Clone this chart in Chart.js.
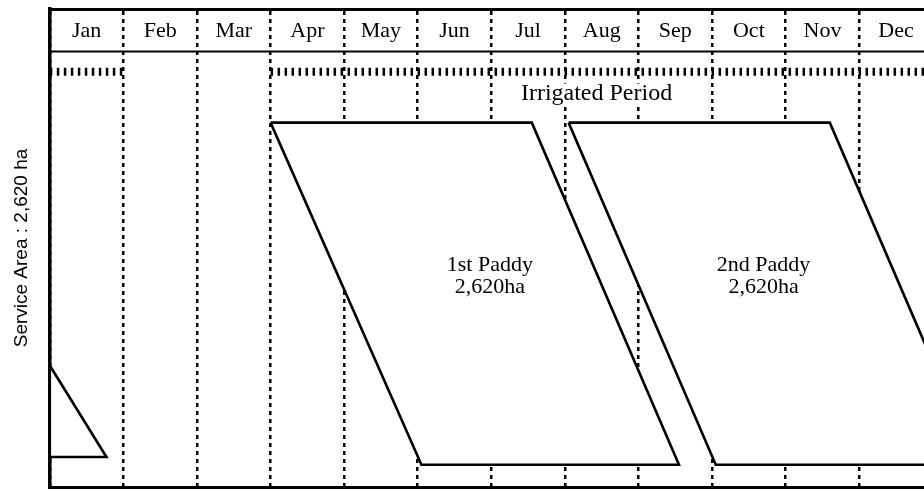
<!DOCTYPE html>
<html>
<head>
<meta charset="utf-8">
<script src="https://cdn.jsdelivr.net/npm/chart.js@4.4.1/dist/chart.umd.min.js"></script>
<style>
  html, body { margin: 0; padding: 0; background: #fff; overflow: hidden; }
  canvas { display: block; }
</style>
</head>
<body>
<canvas id="cropChart" width="924" height="491"></canvas>
<script>
// x unit = 1 month counted from 1 Jan, y unit = ha
const months = ["Jan", "Feb", "Mar", "Apr", "May", "Jun", "Jul", "Aug", "Sep", "Oct", "Nov", "Dec"];

// 1st paddy outline
const firstPaddyX = [3.0, 6.55, 8.55, 5.05, 3.0];
const firstPaddyY = [2620, 2620, 0, 0, 2620];
// 2nd paddy outline (runs past the end of December)
const secondPaddyX = [7.05, 10.6, 12.6, 9.05, 7.05];
const secondPaddyY = [2620, 2620, 0, 0, 2620];
// tail of last year's 2nd paddy
const carryOverX = [0, 0.77, 0, 0];
const carryOverY = [760, 60, 60, 760];

// irrigated period bands
const irrigatedStart = [0, 3.0];
const irrigatedEnd = [1.0, 11.9];
const irrigatedLevel = 3010;
const headerLevel = 3165;

const cropLabels = [
  { lines: ["1st Paddy", "2,620ha"], x: 5.98, y: 1525 },
  { lines: ["2nd Paddy", "2,620ha"], x: 9.7, y: 1525 }
];
const irrigatedLabel = { text: "Irrigated Period", x: 7.43, y: 2842 };

const toPoints = (xs, ys) => xs.map((x, i) => ({ x: x, y: ys[i] }));

const outline = (xs, ys) => ({
  data: toPoints(xs, ys),
  showLine: true,
  borderColor: "#000",
  borderWidth: 2.6,
  backgroundColor: "#fff",
  fill: "shape",
  pointRadius: 0,
  tension: 0
});

const datasets = [
  outline(firstPaddyX, firstPaddyY),
  outline(secondPaddyX, secondPaddyY),
  outline(carryOverX, carryOverY),
  {
    data: [{ x: 0, y: headerLevel }, { x: 11.9, y: headerLevel }],
    showLine: true, borderColor: "#000", borderWidth: 2, pointRadius: 0
  }
];
irrigatedStart.forEach((s, i) => {
  datasets.push({
    data: [{ x: s, y: irrigatedLevel }, { x: irrigatedEnd[i], y: irrigatedLevel }],
    showLine: true,
    borderColor: "#000",
    borderWidth: 8,
    borderDash: [2.5, 4.5],
    borderCapStyle: "butt",
    pointRadius: 0
  });
});

const textPlugin = {
  id: "cropText",
  afterDatasetsDraw(chart) {
    const { ctx, scales } = chart;
    ctx.save();
    ctx.fillStyle = "#000";
    ctx.textAlign = "center";
    ctx.textBaseline = "middle";
    ctx.font = "22px 'Liberation Serif'";
    cropLabels.forEach(l => {
      const px = scales.x.getPixelForValue(l.x);
      const py = scales.y.getPixelForValue(l.y);
      l.lines.forEach((t, i) => ctx.fillText(t, px, py + i * 22));
    });
    ctx.font = "24px 'Liberation Serif'";
    const ix = scales.x.getPixelForValue(irrigatedLabel.x);
    const iy = scales.y.getPixelForValue(irrigatedLabel.y);
    const w = ctx.measureText(irrigatedLabel.text).width;
    ctx.fillStyle = "#fff";
    ctx.fillRect(ix - w / 2 - 2, iy - 10, w + 4, 20);
    ctx.fillStyle = "#000";
    ctx.fillText(irrigatedLabel.text, ix, iy);
    ctx.restore();
  }
};

new Chart(document.getElementById("cropChart"), {
  type: "scatter",
  data: { datasets: datasets },
  options: {
    responsive: false,
    animation: false,
    layout: { padding: { left: 10, top: 9, right: 0, bottom: 4 } },
    plugins: { legend: { display: false }, tooltip: { enabled: false } },
    scales: {
      x: {
        type: "linear",
        position: "top",
        min: 0,
        max: 11.88,
        afterBuildTicks: s => { s.ticks = months.map((m, i) => ({ value: i + 0.5 })); },
        ticks: {
          autoSkip: false,
          maxRotation: 0,
          mirror: true,
          padding: 0,
          color: "#000",
          font: { family: "Liberation Serif", size: 22, lineHeight: 2.0 },
          callback: (v, i) => months[i]
        },
        grid: { offset: true, drawTicks: false, color: "#000", lineWidth: 2.5 },
        border: { display: true, color: "#000", width: 3, dash: [4, 4] }
      },
      xb: {
        type: "linear",
        position: "bottom",
        min: 0,
        max: 11.88,
        ticks: { display: false },
        grid: { display: false, drawTicks: false },
        border: { display: true, color: "#000", width: 3 }
      },
      y: {
        min: -170,
        max: 3490,
        ticks: { display: false },
        grid: { display: false, drawTicks: false },
        border: { display: true, color: "#000", width: 3.5 },
        title: {
          display: true,
          text: "Service Area : 2,620 ha",
          color: "#000",
          font: { family: "Liberation Sans", size: 19 },
          padding: { top: 0, bottom: 17 }
        }
      }
    }
  },
  plugins: [textPlugin]
});
</script>
</body>
</html>
